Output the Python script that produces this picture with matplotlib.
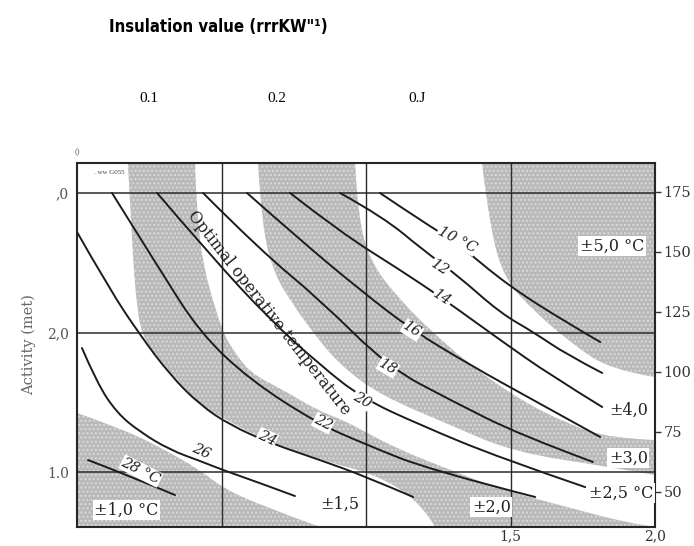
import numpy as np
import matplotlib.pyplot as plt
from matplotlib.path import Path
from matplotlib.patches import PathPatch
from matplotlib import font_manager as fm

# optimal operative temperature lines: clothing (clo) vs activity (met)
t10_clo = [1.048, 1.197, 1.315, 1.488, 1.696, 1.810]
t10_met = [3.000, 2.792, 2.642, 2.341, 2.068, 1.932]
t12_clo = [0.910, 1.059, 1.197, 1.315, 1.464, 1.578, 1.696, 1.817]
t12_met = [3.000, 2.828, 2.591, 2.412, 2.140, 2.004, 1.839, 1.710]
t14_clo = [0.737, 0.910, 1.118, 1.263, 1.464, 1.637, 1.817]
t14_met = [3.000, 2.720, 2.448, 2.247, 1.946, 1.695, 1.466]
t16_clo = [0.588, 0.772, 0.979, 1.159, 1.360, 1.578, 1.810]
t16_met = [3.000, 2.663, 2.305, 2.018, 1.767, 1.516, 1.251]
t18_clo = [0.436, 0.633, 0.841, 1.076, 1.291, 1.533, 1.785]
t18_met = [3.000, 2.591, 2.233, 1.753, 1.516, 1.265, 1.072]
t20_clo = [0.277, 0.460, 0.668, 0.841, 0.986, 1.187, 1.464, 1.758]
t20_met = [3.000, 2.556, 2.090, 1.767, 1.530, 1.337, 1.100, 0.892]
t22_clo = [0.121, 0.287, 0.426, 0.599, 0.830, 1.003, 1.221, 1.585]
t22_met = [3.000, 2.448, 1.996, 1.659, 1.351, 1.194, 1.014, 0.821]
t24_clo = [0.0, 0.114, 0.218, 0.322, 0.426, 0.529, 0.668, 0.841, 1.003, 1.163]
t24_met = [2.720, 2.305, 1.982, 1.695, 1.480, 1.337, 1.208, 1.086, 0.964, 0.821]
t26_clo = [0.017, 0.069, 0.138, 0.218, 0.322, 0.426, 0.505, 0.633, 0.754]
t26_met = [1.889, 1.638, 1.423, 1.287, 1.158, 1.079, 1.014, 0.921, 0.828]
t28_clo = [0.038, 0.183, 0.339]
t28_met = [1.086, 0.971, 0.835]

temp_labels = ['10 °C', '12', '14', '16', '18', '20', '22', '24', '26', '28 °C']

# boundaries of the shaded tolerance zones
b1_clo = [0.0, 0.149, 0.287, 0.426, 0.505, 0.633, 0.841]
b1_met = [1.423, 1.315, 1.179, 1.014, 0.885, 0.763, 0.606]
b2_clo = [0.176, 0.187, 0.194, 0.208, 0.228, 0.277, 0.356, 0.426, 0.505, 0.633, 0.865, 1.003, 1.118, 1.204, 1.239]
b2_met = [3.215, 2.806, 2.520, 2.161, 1.968, 1.824, 1.638, 1.480, 1.387, 1.244, 1.072, 1.000, 0.885, 0.728, 0.606]
b3_clo = [0.408, 0.415, 0.443, 0.505, 0.540, 0.599, 0.713, 0.830, 0.920, 1.003, 1.118, 1.291, 1.474, 1.671, 1.903, 2.0]
b3_met = [3.215, 2.806, 2.412, 1.996, 1.875, 1.710, 1.588, 1.444, 1.373, 1.280, 1.158, 1.014, 0.871, 0.763, 0.634, 0.606]
b4_clo = [0.626, 0.640, 0.685, 0.737, 0.817, 0.910, 1.048, 1.291, 1.509, 1.844, 2.0]
b4_met = [3.215, 2.735, 2.412, 2.233, 1.996, 1.767, 1.552, 1.337, 1.143, 1.036, 0.978]
b5_clo = [0.962, 0.972, 1.021, 1.118, 1.221, 1.360, 1.533, 1.706, 1.844, 2.0]
b5_met = [3.215, 2.806, 2.484, 2.233, 2.018, 1.767, 1.516, 1.337, 1.244, 1.229]
b6_clo = [1.401, 1.429, 1.481, 1.578, 1.696, 1.844, 2.0]
b6_met = [3.215, 2.735, 2.376, 2.161, 1.946, 1.731, 1.681]

zone_labels = ['±1,0 °C', '±1,5', '±2,0', '±2,5 °C', '±3,0', '±4,0', '±5,0 °C']

clo_ticks = [1.5, 2.0]
clo_ticklabels = ['1,5', '2,0']
met_ticks = [1.0, 2.0, 3.0]
met_ticklabels = ['1.0', '2,0', ',0']
wm2_ticks = [50, 75, 100, 125, 150, 175]
top_labels = ['0.1', '0.2', '0.J']

MET_W = 58.15
XMIN, XMAX, YMIN, YMAX = 0.0, 2.0, 0.606, 3.215


def smooth(xs, ys, first=Path.MOVETO):
    # quadratic bezier through the midpoints, drawn by matplotlib's path renderer
    p = np.column_stack([xs, ys])
    verts, codes = [p[0]], [first]
    n = len(p)
    if n == 2:
        return verts + [p[1]], codes + [Path.LINETO]
    for i in range(1, n - 1):
        end = p[i + 1] if i == n - 2 else (p[i] + p[i + 1]) / 2
        verts += [p[i], end]
        codes += [Path.CURVE3, Path.CURVE3]
    return verts, codes


def zone(parts):
    verts, codes = [], []
    for k, (xs, ys) in enumerate(parts):
        v, c = smooth(xs, ys, Path.MOVETO if k == 0 else Path.LINETO)
        verts += v
        codes += c
    verts.append(verts[0])
    codes.append(Path.CLOSEPOLY)
    return Path(verts, codes)


fig = plt.figure(figsize=(6.94, 5.46), dpi=100)
ax = fig.add_axes([0.111, 0.0348, 0.833, 0.6667])
ax.set_xlim(XMIN, XMAX)
ax.set_ylim(YMIN, YMAX)

shade = dict(facecolor='#b9b9b9', edgecolor='#dadada', hatch='....', linewidth=0, zorder=1)
zones = [
    [(b1_clo, b1_met), ([XMIN], [YMIN])],
    [(b2_clo, b2_met), (b3_clo[::-1], b3_met[::-1])],
    [(b4_clo, b4_met), (b5_clo[::-1], b5_met[::-1])],
    [(b6_clo, b6_met), ([XMAX], [YMAX])],
]
for z in zones:
    ax.add_patch(PathPatch(zone(z), **shade))

for v in [0.5, 1.0, 1.5]:
    ax.axvline(v, color='#2b2b2b', lw=1.0, zorder=2)
for h in [1.0, 2.0, 3.0]:
    ax.axhline(h, color='#2b2b2b', lw=1.1, zorder=2)

curves = [(t10_clo, t10_met), (t12_clo, t12_met), (t14_clo, t14_met), (t16_clo, t16_met),
          (t18_clo, t18_met), (t20_clo, t20_met), (t22_clo, t22_met), (t24_clo, t24_met),
          (t26_clo, t26_met), (t28_clo, t28_met)]
for cx, cy in curves:
    v, c = smooth(cx, cy)
    ax.add_patch(PathPatch(Path(v, c), fill=False, edgecolor='#1c1c1c', lw=1.4,
                           zorder=3, capstyle='round'))

lab_x = [1.315, 1.256, 1.263, 1.159, 1.076, 0.986, 0.851, 0.657, 0.429, 0.221]
lab_y = [2.663, 2.462, 2.247, 2.018, 1.753, 1.516, 1.351, 1.244, 1.151, 1.007]
lab_rot = [-27, -33, -33, -32, -30, -30, -27, -25, -25, -27]
for s, x, y, r in zip(temp_labels, lab_x, lab_y, lab_rot):
    ax.text(x, y, s, rotation=r, ha='center', va='center', fontsize=10.5,
            family='DejaVu Serif', style='italic', color='#222', zorder=4,
            bbox=dict(facecolor='white', edgecolor='none', pad=0.5))

zx = [0.170, 0.910, 1.433, 1.882, 1.907, 1.907, 1.851]
zy = [0.728, 0.771, 0.749, 0.849, 1.100, 1.444, 2.620]
for s, x, y in zip(zone_labels, zx, zy):
    ax.text(x, y, s, ha='center', va='center', fontsize=11.5,
            family='DejaVu Serif', color='#222', zorder=4,
            bbox=dict(facecolor='white', edgecolor='none', pad=1.0))

ax.text(0.665, 2.14, 'Optimal operative temperature', rotation=-52, ha='center',
        va='center', fontsize=11.5, family='DejaVu Serif', color='#222', zorder=4)
ax.text(0.11, 3.15, '. ww G055', ha='center', va='center', fontsize=5,
        family='Liberation Serif', color='#444', zorder=4)
ax.text(0.0, 3.29, '()', ha='center', va='center', fontsize=6,
        family='Liberation Serif', color='#555')

ax.set_xticks(clo_ticks, clo_ticklabels, family='DejaVu Serif', fontsize=10, color='#333')
ax.set_yticks(met_ticks, met_ticklabels, family='DejaVu Serif', fontsize=10, color='#555')
ax.tick_params(axis='x', length=0, pad=2)
ax.tick_params(axis='y', length=0, pad=6)
ax.set_ylabel('Activity (met)', family='DejaVu Serif', fontsize=10.5, color='#666', labelpad=8)

sec = ax.secondary_yaxis('right', functions=(lambda m: m * MET_W, lambda w: w / MET_W))
sec.set_yticks(wm2_ticks)
sec.tick_params(length=4, width=1, direction='out', pad=2, labelsize=10.5, colors='#333')
for t in sec.get_yticklabels():
    t.set_family('DejaVu Serif')
sec.spines['right'].set_visible(False)

for sp in ax.spines.values():
    sp.set_linewidth(1.5)
    sp.set_color('#262626')

# narrow bold face for the heading if one is installed
title_font = dict(family='Liberation Sans', fontweight='bold', fontsize=11)
cond = [f.fname for f in fm.fontManager.ttflist
        if 'DejaVuSansCondensed-Bold.' in f.fname or 'LiberationSansNarrow-Bold.' in f.fname]
if cond:
    title_font = dict(fontproperties=fm.FontProperties(fname=cond[0], size=12))
fig.text(0.314, 0.951, 'Insulation value (rrrKW"\u00b9)', ha='center', va='center', **title_font)
for s, px in zip(top_labels, [0.215, 0.399, 0.601]):
    fig.text(px, 0.82, s, ha='center', va='center', fontsize=11, family='Liberation Serif')

fig.savefig('out.png', dpi=100)
